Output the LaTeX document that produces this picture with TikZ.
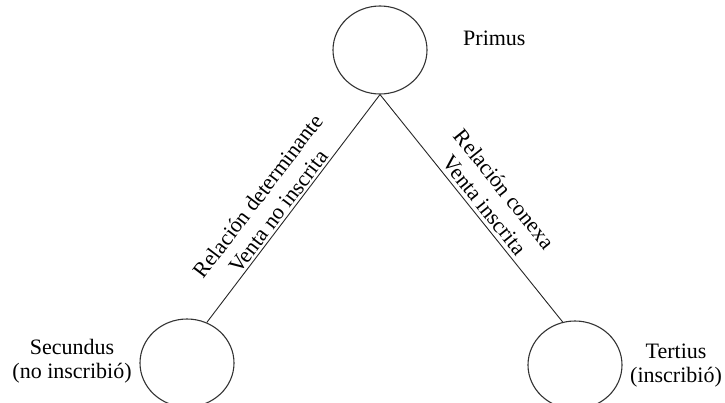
\documentclass[tikz,border=0pt]{standalone}
\usepackage{fontspec}
\setmainfont{Liberation Serif}
\usetikzlibrary{shapes.geometric}
\begin{document}
\begin{tikzpicture}[x=1pt,y=-1pt,
  party/.style={ellipse, draw=black!80, line width=1.1pt,
    minimum width=94pt, minimum height=88pt, inner sep=0pt},
  tag/.style={font=\fontsize{22}{24}\selectfont, align=center, inner sep=0pt},
  reltag/.style={tag, font=\fontsize{22}{25.5}\selectfont, sloped},
  link/.style={draw=black!85, line width=0.9pt}]
\useasboundingbox (0,0) rectangle (725,402);
% the three parties
\node[party] (primus) at (380,50) {};
\node[party] (secundus) at (187,363) {};
\node[party] (tertius) at (575,365) {};
% their names
\node[tag, anchor=base west] (nprimus) at (463,45) {Primus};
\node[tag] (nsecundus) at (72,361) {Secundus\\(no inscribió)};
\node[tag] (ntertius) at (676,366) {Tertius\\(inscribió)};
% the two relations
\draw[link] (primus.south) -- node[reltag, pos=0.54, above=2pt] {Relación determinante\\Venta no inscrita} (secundus.64);
\draw[link] (primus.south) -- node[reltag, pos=0.52, above=4pt] {Relación conexa\\Venta inscrita} (tertius.106);
\end{tikzpicture}
\end{document}
